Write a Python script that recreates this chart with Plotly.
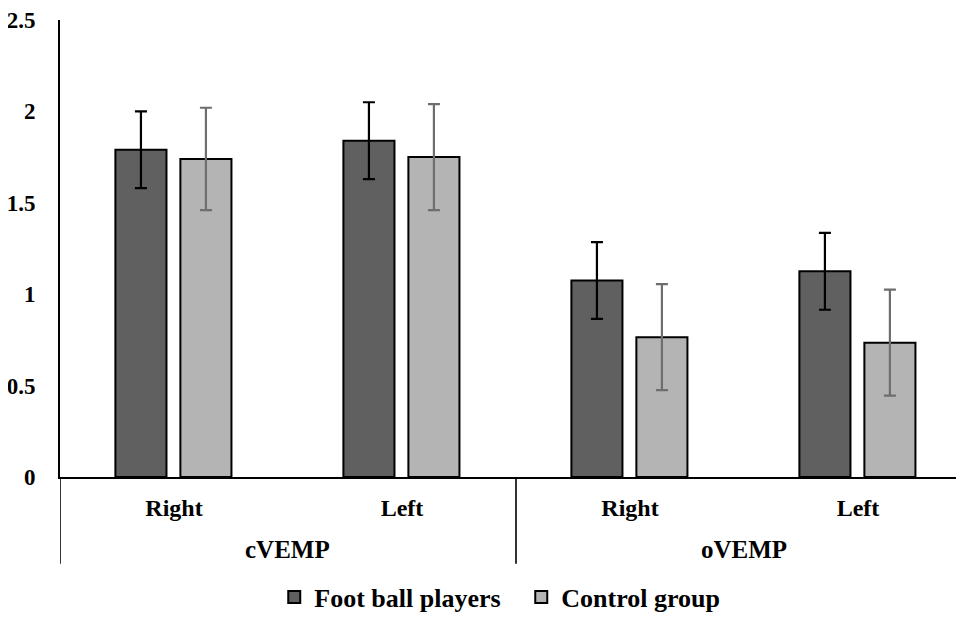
import plotly.graph_objects as go

groups = ["cVEMP", "cVEMP", "oVEMP", "oVEMP"]
sides = ["Right", "Left", "Right", "Left"]
football = [1.79, 1.84, 1.075, 1.125]
football_err = [0.21, 0.21, 0.21, 0.21]
control = [1.74, 1.75, 0.765, 0.735]
control_err = [0.28, 0.29, 0.29, 0.29]
y_ticks = [0, 0.5, 1, 1.5, 2, 2.5]
y_ticktext = ["0", "0.5", "1", "1.5", "2", "2.5"]

FONT = "Times New Roman, Liberation Serif, serif"
keys = [f"{g} {s}" for g, s in zip(groups, sides)]

fig = go.Figure()
fig.add_trace(go.Bar(
    x=keys, y=football, name="Foot ball players",
    marker=dict(color="#606060", line=dict(color="black", width=2)),
    width=0.224, offset=-0.257,
    error_y=dict(type="data", array=football_err, color="black", thickness=2.2, width=6),
))
fig.add_trace(go.Bar(
    x=keys, y=control, name="Control group",
    marker=dict(color="#b4b4b4", line=dict(color="black", width=2)),
    width=0.224, offset=0.028,
    error_y=dict(type="data", array=control_err, color="#6e6e6e", thickness=2.2, width=6),
))

# group labels and dividers of the two-level category axis
group_names = []
for g in groups:
    if g not in group_names:
        group_names.append(g)
for g in group_names:
    idx = [i for i, gg in enumerate(groups) if gg == g]
    center = (idx[0] + idx[-1]) / 2
    fig.add_annotation(x=center, xref="x", y=-0.159, yref="paper",
                       text=f"<b>{g}</b>", showarrow=False, yanchor="middle",
                       font=dict(family=FONT, size=25, color="black"))
bounds = [-0.5] + [i + 0.5 for i in range(len(groups) - 1) if groups[i] != groups[i + 1]]
for b in bounds:
    fig.add_shape(type="line", xref="x", yref="paper", x0=b, x1=b, y0=0, y1=-0.19,
                  line=dict(color="black", width=1.6))

fig.update_layout(
    width=964, height=621,
    margin=dict(l=52, r=8, t=12, b=149),
    plot_bgcolor="white", paper_bgcolor="white",
    font=dict(family=FONT, size=24, color="black"),
    showlegend=True,
    legend=dict(orientation="h", x=0.237, xanchor="left", y=-0.263, yanchor="middle",
                font=dict(family=FONT, size=26, color="black", weight="bold"),
                entrywidth=202, entrywidthmode="pixels",
                traceorder="normal"),
    xaxis=dict(
        type="category", range=[-0.5, 3.465], automargin=False,
        tickvals=keys, ticktext=sides,
        showline=True, linecolor="black", linewidth=1.6,
        tickfont=dict(family=FONT, size=24, color="black", weight="bold"),
        showgrid=False, ticks="", ticklabelstandoff=8,
    ),
    yaxis=dict(
        range=[0, 2.5], tickvals=y_ticks, ticktext=y_ticktext, automargin=False,
        showline=True, linecolor="black", linewidth=1.6,
        showgrid=False, zeroline=False, ticks="",
        tickfont=dict(family=FONT, size=23, color="black", weight="bold"),
        ticklabelstandoff=18,
    ),
)

fig.write_html("out.html")
